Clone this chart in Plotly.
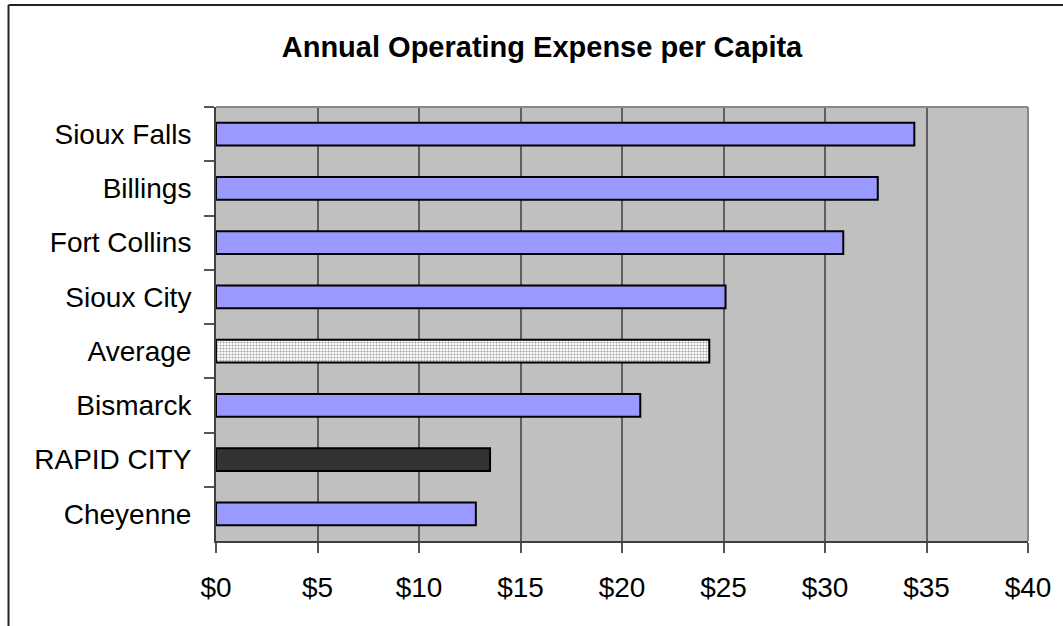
import plotly.graph_objects as go

# Annual operating expense per capita, dollars (top to bottom)
cities = ["Sioux Falls", "Billings", "Fort Collins", "Sioux City",
          "Average", "Bismarck", "RAPID CITY", "Cheyenne"]
expense = [34.4, 32.6, 30.9, 25.1, 24.3, 20.9, 13.5, 12.8]
x_ticks = [0, 5, 10, 15, 20, 25, 30, 35, 40]
x_tick_text = ["$0", "$5", "$10", "$15", "$20", "$25", "$30", "$35", "$40"]

PERIWINKLE = "#9999FF"
HIGHLIGHT = "#333333"


def bar_color(city):
    if city == "RAPID CITY":
        return HIGHLIGHT
    if city == "Average":
        return "white"
    return PERIWINKLE


bar_colors = [bar_color(c) for c in cities]
bar_patterns = ["." if c == "Average" else "" for c in cities]

FONT = "Liberation Sans, Arial, sans-serif"

fig = go.Figure(
    go.Bar(
        x=expense,
        y=cities,
        orientation="h",
        marker=dict(
            color=bar_colors,
            line=dict(color="black", width=2),
            pattern=dict(shape=bar_patterns, fillmode="overlay",
                         fgcolor=PERIWINKLE, size=3, solidity=0.4),
        ),
        hoverinfo="skip",
    )
)

W, H = 1063, 626
L, R, T, B = 216, 33, 107, 85
pw, ph = W - L - R, H - T - B


def px_x(px):
    return (px - L) / pw


def px_y(py):
    return (H - B - py) / ph


fig.update_layout(
    width=W,
    height=H,
    margin=dict(l=L, r=R, t=T, b=B, pad=0),
    paper_bgcolor="white",
    plot_bgcolor="#C0C0C0",
    bargap=0.58,
    showlegend=False,
    font=dict(family=FONT, size=28, color="black"),
    title=dict(
        text="<b>Annual Operating Expense per Capita</b>",
        font=dict(family=FONT, size=29, color="black"),
        xref="container", x=542 / W, xanchor="center",
        yref="container", y=1 - 47 / H, yanchor="middle",
    ),
    xaxis=dict(
        range=[0, 40],
        tickvals=x_ticks,
        ticktext=x_tick_text,
        showgrid=True,
        gridcolor="#5f5f5f",
        gridwidth=1.5,
        zeroline=False,
        showline=True,
        linecolor="#404040",
        linewidth=2,
        ticks="outside",
        ticklen=10,
        tickcolor="#555555",
        tickwidth=1.5,
        ticklabelstandoff=10,
        fixedrange=True,
    ),
    yaxis=dict(
        autorange="reversed",
        type="category",
        showgrid=False,
        zeroline=False,
        showline=True,
        linecolor="#404040",
        linewidth=2,
        ticks="outside",
        tickson="boundaries",
        ticklen=10,
        tickcolor="#555555",
        tickwidth=1.5,
        ticklabelstandoff=17,
        fixedrange=True,
    ),
    shapes=[
        # top and right edges of the plotting area
        dict(type="line", xref="paper", yref="paper", x0=0, x1=1, y0=1, y1=1,
             line=dict(color="#888888", width=2), layer="above"),
        dict(type="line", xref="paper", yref="paper", x0=1, x1=1, y0=0, y1=1,
             line=dict(color="#888888", width=2), layer="above"),
        # chart frame
        dict(type="line", xref="paper", yref="paper",
             x0=px_x(8), x1=px_x(W + 5), y0=px_y(5), y1=px_y(5),
             line=dict(color="#222222", width=2)),
        dict(type="line", xref="paper", yref="paper",
             x0=px_x(8), x1=px_x(8), y0=px_y(5), y1=px_y(H + 5),
             line=dict(color="#222222", width=2)),
    ],
)

fig.write_html("out.html")
